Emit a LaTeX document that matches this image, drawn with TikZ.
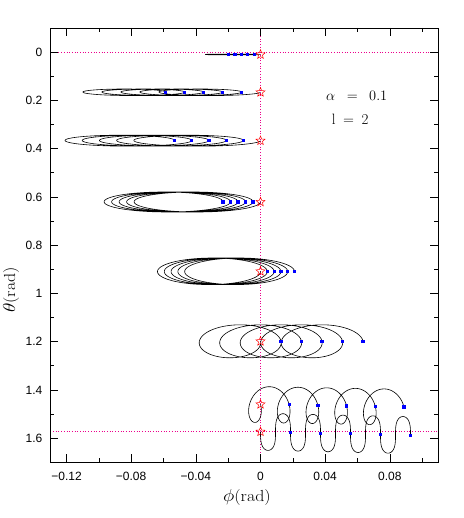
\documentclass[tikz,border=0pt]{standalone}
\usepackage{amsmath}
\usepackage{amssymb}
\usepackage{fontspec}
\newfontfamily\ticksf{Liberation Sans}
\usetikzlibrary{shapes.geometric}

\begin{document}
\begin{tikzpicture}[x=1pt,y=-1pt]
        \tikzstyle{dot} = [draw=none,fill=blue,rectangle,inner sep=0pt,minimum size=3.2pt]
        \tikzstyle{start} = [draw=red,star,star points=5,star point ratio=2.3,inner sep=0pt,minimum size=9.5pt,line width=0.5pt]
        \tikzstyle{guide} = [magenta,dotted,line width=0.7pt]
        \tikzstyle{orbit} = [black,line width=0.6pt]
        \tikzstyle{tick} = [font=\ticksf\fontsize{12}{14}\selectfont,inner sep=1pt]
        \def\xo{260.5} \def\xs{1616.7} \def\yo{52.1} \def\ys{241.3}
        \useasboundingbox (0,0) rectangle (463,518);

        % guides
        \draw[guide] (50.3,\yo) -- (438.3,\yo);
        \draw[guide] (50.3,431.4) -- (438.3,431.4);
        \draw[guide] (\xo,28) -- (\xo,462.3);

        % frame and ticks
        \draw[line width=0.6pt] (50.3,28) rectangle (438.3,462.3);
        \foreach \v/\l in {-0.12/8, -0.1/4, -0.08/8, -0.06/4, -0.04/8, -0.02/4,
          0/8, 0.02/4, 0.04/8, 0.06/4, 0.08/8, 0.1/4} {
          \pgfmathsetmacro\px{\xo+\xs*\v}
          \draw[line width=0.6pt] (\px,462.3) -- ++(0,-\l);
          \draw[line width=0.6pt] (\px,28) -- ++(0,\l);
        }
        \foreach \i in {0,...,16} {
          \pgfmathsetmacro\py{\yo+\ys*\i/10}
          \pgfmathsetmacro\l{ifthenelse(mod(\i,2)==0,8,4)}
          \draw[line width=0.6pt] (50.3,\py) -- ++(\l,0);
          \draw[line width=0.6pt] (438.3,\py) -- ++(-\l,0);
        }
        \foreach \v/\t [count=\i] in {-0.12/−0.12, -0.08/−0.08, -0.04/−0.04, 0/0, 0.04/0.04, 0.08/0.08} {
          \node[tick] (xt\i) at ({\xo+\xs*\v},476) {\t};
        }
        \foreach \v/\t [count=\i] in {0/0, 0.2/0.2, 0.4/0.4, 0.6/0.6, 0.8/0.8, 1/1, 1.2/1.2, 1.4/1.4, 1.6/1.6} {
          \node[tick,anchor=east] (yt\i) at (43.5,{\yo+\ys*\v}) {\t};
        }
        \node (xlab) at (247,497) {\fontsize{16}{18}\selectfont\scalebox{1.12}[1]{$\phi$(rad)}};
        \node[rotate=90] (ylab) at (11,290) {\fontsize{16}{18}\selectfont\scalebox{1.12}[1]{$\theta$(rad)}};
        \node[anchor=west,inner sep=0pt] (alab) at (326,96) {\fontsize{15}{18}\selectfont$\alpha\enspace=\enspace0.1$};
        \node[anchor=west,inner sep=0pt] (llab) at (331.7,119) {\fontsize{15}{18}\selectfont l$\enspace=\enspace$2};

        % drifting loops
        \foreach \yc/\d/\r/\b [count=\n] in {54.5/-6.4/13.1/0.4, 92.3/-19/46/3.3, 140.7/-17.2/59/5.5,
          202/-7.5/61.3/10, 271.3/6.8/53.2/13.3, 341.3/20.5/35.7/16.5} {
          \draw[orbit] plot[domain=0:5,samples=600,smooth,variable=\s]
            ({\xo+\d*\s+\r*(cos(360*\s)-1)},{\yc+\b*sin(360*\s)});
          \foreach \k in {1,...,5} {
            \node[dot] (d\n-\k) at ({\xo+\d*\k},\yc) {};
          }
          \node[start] (s\n) at (\xo,\yc) {};
        }
        \draw[orbit] plot[domain=0:5,samples=600,smooth,variable=\s]
          ({\xo+28.7*\s+12.7*(cos(360*\s)-1)},{404.3+0.55*\s+18*sin(360*\s)});
        \draw[orbit] plot[domain=0:5,samples=600,smooth,variable=\s]
          ({\xo+30*\s-2.4*sin(720*\s)},{431.7+0.7*\s+18.5*sin(360*\s)});
        \foreach \k in {1,...,5} {
          \node[dot] (d7-\k) at ({\xo+28.7*\k},{404.3+0.55*\k}) {};
          \node[dot] (d8-\k) at ({\xo+30*\k},{431.7+0.7*\k}) {};
        }
        \node[start] (s7) at (\xo,404.3) {};
        \node[start] (s8) at (\xo,431.7) {};
\end{tikzpicture}
\end{document}
